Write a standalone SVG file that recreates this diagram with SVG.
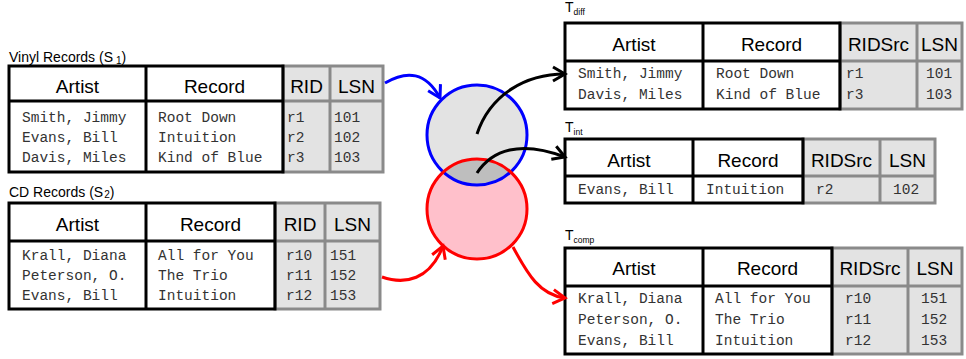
<svg xmlns="http://www.w3.org/2000/svg" width="966" height="359" viewBox="0 0 966 359">
  <style>
    .cap { font-family: "Liberation Sans", Arial, sans-serif; font-size: 14px; fill: #000; }
    .sub { font-size: 10px; }
    .tl { font-family: "Liberation Sans", Arial, sans-serif; font-size: 14px; fill: #000; }
    .tsub { font-size: 8.5px; }
    .hd { font-family: "Liberation Sans", Arial, sans-serif; font-size: 19px; fill: #000; text-anchor: middle; }
    .dt { font-family: "Liberation Mono", "Courier New", monospace; font-size: 14.5px; fill: #333; }
    .bbox { fill: none; stroke: #000; stroke-width: 3; }
    .bln { stroke: #000; stroke-width: 3; }
    .gbox { fill: #e3e3e3; stroke: #8a8a8a; stroke-width: 3; }
    .gln { stroke: #8a8a8a; stroke-width: 3; }
    .wbox { fill: #fff; }
    .arr { fill: none; stroke-width: 3; }
  </style>
  <defs>
    <marker id="ahBlue" markerUnits="userSpaceOnUse" viewBox="-16 -10 20 20" refX="0" refY="0" markerWidth="20" markerHeight="20" orient="auto">
      <path d="M-12,-7 L0,0 L-12,7" fill="none" stroke="#0000ff" stroke-width="3"/>
    </marker>
    <marker id="ahRed" markerUnits="userSpaceOnUse" viewBox="-16 -10 20 20" refX="0" refY="0" markerWidth="20" markerHeight="20" orient="auto">
      <path d="M-12,-7 L0,0 L-12,7" fill="none" stroke="#ff0000" stroke-width="3"/>
    </marker>
    <marker id="ahBlack" markerUnits="userSpaceOnUse" viewBox="-16 -10 20 20" refX="0" refY="0" markerWidth="20" markerHeight="20" orient="auto">
      <path d="M-12,-7 L0,0 L-12,7" fill="none" stroke="#000" stroke-width="3"/>
    </marker>
    <clipPath id="clipS1">
      <circle cx="477" cy="135" r="50"/>
    </clipPath>
  </defs>

  <!-- Source table S1 -->
  <g id="vinyl">
    <text class="cap" x="9" y="61.5">Vinyl Records (S<tspan class="sub" dx="3" dy="2">1</tspan><tspan dy="-2">)</tspan></text>
    <rect class="wbox" x="9" y="66" width="274" height="106"/>
    <rect class="gbox" x="283" y="66" width="100" height="106"/>
    <line class="gln" x1="330" y1="66" x2="330" y2="172"/>
    <line class="gln" x1="283" y1="101" x2="383" y2="101"/>
    <rect class="bbox" x="9" y="66" width="274" height="106"/>
    <line class="bln" x1="146" y1="66" x2="146" y2="172"/>
    <line class="bln" x1="9" y1="101" x2="283" y2="101"/>
    <text class="hd" x="77.5" y="93">Artist</text>
    <text class="hd" x="214.5" y="93">Record</text>
    <text class="hd" x="306.5" y="93">RID</text>
    <text class="hd" x="356.5" y="93">LSN</text>
    <text class="dt" x="22" y="121.5">Smith, Jimmy</text>
    <text class="dt" x="22" y="141.5">Evans, Bill</text>
    <text class="dt" x="22" y="161.5">Davis, Miles</text>
    <text class="dt" x="158" y="121.5">Root Down</text>
    <text class="dt" x="158" y="141.5">Intuition</text>
    <text class="dt" x="158" y="161.5">Kind of Blue</text>
    <text class="dt" x="287" y="121.5">r1</text>
    <text class="dt" x="287" y="141.5">r2</text>
    <text class="dt" x="287" y="161.5">r3</text>
    <text class="dt" x="334" y="121.5">101</text>
    <text class="dt" x="334" y="141.5">102</text>
    <text class="dt" x="334" y="161.5">103</text>
  </g>

  <!-- Source table S2 -->
  <g id="cd">
    <text class="cap" x="9" y="196.5">CD Records (S<tspan class="sub" dx="1" dy="1">2</tspan><tspan dy="-1">)</tspan></text>
    <rect class="wbox" x="9" y="203" width="266" height="106"/>
    <rect class="gbox" x="275" y="203" width="105" height="106"/>
    <line class="gln" x1="325" y1="203" x2="325" y2="309"/>
    <line class="gln" x1="275" y1="241" x2="380" y2="241"/>
    <rect class="bbox" x="9" y="203" width="266" height="106"/>
    <line class="bln" x1="146" y1="203" x2="146" y2="309"/>
    <line class="bln" x1="9" y1="241" x2="275" y2="241"/>
    <text class="hd" x="77.5" y="230.5">Artist</text>
    <text class="hd" x="210.5" y="230.5">Record</text>
    <text class="hd" x="300" y="230.5">RID</text>
    <text class="hd" x="352.5" y="230.5">LSN</text>
    <text class="dt" x="22" y="259.5">Krall, Diana</text>
    <text class="dt" x="22" y="279.5">Peterson, O.</text>
    <text class="dt" x="22" y="299.5">Evans, Bill</text>
    <text class="dt" x="158" y="259.5">All for You</text>
    <text class="dt" x="158" y="279.5">The Trio</text>
    <text class="dt" x="158" y="299.5">Intuition</text>
    <text class="dt" x="286" y="259.5">r10</text>
    <text class="dt" x="286" y="279.5">r11</text>
    <text class="dt" x="286" y="299.5">r12</text>
    <text class="dt" x="330" y="259.5">151</text>
    <text class="dt" x="330" y="279.5">152</text>
    <text class="dt" x="330" y="299.5">153</text>
  </g>

  <!-- Venn diagram of the two sources -->
  <g id="venn">
    <circle cx="477" cy="135" r="50" fill="#e3e3e3"/>
    <circle cx="477" cy="209" r="50" fill="#ffc0cb"/>
    <circle cx="477" cy="209" r="50" fill="#bebebe" clip-path="url(#clipS1)"/>
    <circle cx="477" cy="135" r="50" fill="none" stroke="#0000ff" stroke-width="3"/>
    <circle cx="477" cy="209" r="50" fill="none" stroke="#ff0000" stroke-width="3"/>
  </g>

  <!-- Result table T_diff -->
  <g id="tdiff">
    <text class="tl" x="565" y="12">T<tspan class="tsub" dy="3">diff</tspan></text>
    <rect class="wbox" x="565" y="23" width="275" height="86"/>
    <rect class="gbox" x="840" y="23" width="122" height="86"/>
    <line class="gln" x1="917" y1="23" x2="917" y2="109"/>
    <line class="gln" x1="840" y1="61" x2="962" y2="61"/>
    <rect class="bbox" x="565" y="23" width="275" height="86"/>
    <line class="bln" x1="703" y1="23" x2="703" y2="109"/>
    <line class="bln" x1="565" y1="61" x2="840" y2="61"/>
    <text class="hd" x="634" y="50.5">Artist</text>
    <text class="hd" x="771.5" y="50.5">Record</text>
    <text class="hd" x="878.5" y="50.5">RIDSrc</text>
    <text class="hd" x="939.5" y="50.5">LSN</text>
    <text class="dt" x="578" y="78">Smith, Jimmy</text>
    <text class="dt" x="578" y="99">Davis, Miles</text>
    <text class="dt" x="716" y="78">Root Down</text>
    <text class="dt" x="716" y="99">Kind of Blue</text>
    <text class="dt" x="846" y="78">r1</text>
    <text class="dt" x="846" y="99">r3</text>
    <text class="dt" x="926" y="78">101</text>
    <text class="dt" x="926" y="99">103</text>
  </g>

  <!-- Result table T_int -->
  <g id="tint">
    <text class="tl" x="565" y="131.5">T<tspan class="tsub" dy="3">int</tspan></text>
    <rect class="wbox" x="565" y="139" width="238" height="64"/>
    <rect class="gbox" x="803" y="139" width="132" height="64"/>
    <line class="gln" x1="880" y1="139" x2="880" y2="203"/>
    <line class="gln" x1="803" y1="176" x2="935" y2="176"/>
    <rect class="bbox" x="565" y="139" width="238" height="64"/>
    <line class="bln" x1="693" y1="139" x2="693" y2="203"/>
    <line class="bln" x1="565" y1="176" x2="803" y2="176"/>
    <text class="hd" x="629" y="166.5">Artist</text>
    <text class="hd" x="748" y="166.5">Record</text>
    <text class="hd" x="841.5" y="166.5">RIDSrc</text>
    <text class="hd" x="907.5" y="166.5">LSN</text>
    <text class="dt" x="578" y="194">Evans, Bill</text>
    <text class="dt" x="706" y="194">Intuition</text>
    <text class="dt" x="816" y="194">r2</text>
    <text class="dt" x="893" y="194">102</text>
  </g>

  <!-- Result table T_comp -->
  <g id="tcomp">
    <text class="tl" x="565" y="240">T<tspan class="tsub" dy="3">comp</tspan></text>
    <rect class="wbox" x="565" y="248" width="267" height="106"/>
    <rect class="gbox" x="832" y="248" width="130" height="106"/>
    <line class="gln" x1="908" y1="248" x2="908" y2="354"/>
    <line class="gln" x1="832" y1="286" x2="962" y2="286"/>
    <rect class="bbox" x="565" y="248" width="267" height="106"/>
    <line class="bln" x1="703" y1="248" x2="703" y2="354"/>
    <line class="bln" x1="565" y1="286" x2="832" y2="286"/>
    <text class="hd" x="634" y="275">Artist</text>
    <text class="hd" x="767.5" y="275">Record</text>
    <text class="hd" x="870" y="275">RIDSrc</text>
    <text class="hd" x="935" y="275">LSN</text>
    <text class="dt" x="578" y="303">Krall, Diana</text>
    <text class="dt" x="578" y="324">Peterson, O.</text>
    <text class="dt" x="578" y="345">Evans, Bill</text>
    <text class="dt" x="715" y="303">All for You</text>
    <text class="dt" x="715" y="324">The Trio</text>
    <text class="dt" x="715" y="345">Intuition</text>
    <text class="dt" x="845" y="303">r10</text>
    <text class="dt" x="845" y="324">r11</text>
    <text class="dt" x="845" y="345">r12</text>
    <text class="dt" x="921" y="303">151</text>
    <text class="dt" x="921" y="324">152</text>
    <text class="dt" x="921" y="345">153</text>
  </g>

  <!-- Connectors -->
  <g id="connectors">
    <path class="arr" stroke="#0000ff" d="M385,83 C407,70 426,72 440,98" marker-end="url(#ahBlue)"/>
    <path class="arr" stroke="#ff0000" d="M382,277 C405,285 430,280 443,246" marker-end="url(#ahRed)"/>
    <path class="arr" stroke="#000" d="M477,134 C490,95 525,74 565,74" marker-end="url(#ahBlack)"/>
    <path class="arr" stroke="#000" d="M477,173 C492,150 520,140 565,157" marker-end="url(#ahBlack)"/>
    <path class="arr" stroke="#ff0000" d="M513,247 C528,275 540,295 565,298" marker-end="url(#ahRed)"/>
  </g>
</svg>
